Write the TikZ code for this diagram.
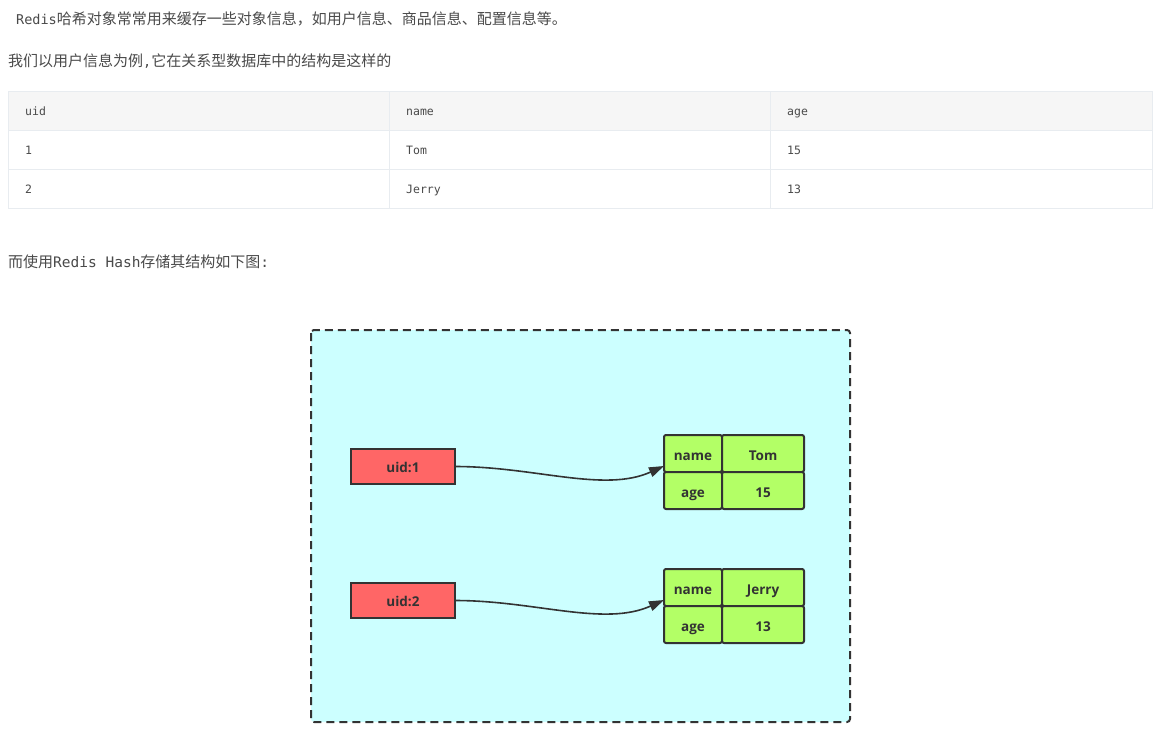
\documentclass[tikz,border=0pt]{standalone}
\usepackage{fontspec}
\usetikzlibrary{arrows.meta}
\newfontfamily\cjk{Noto Sans CJK SC}
\newfontfamily\mono{DejaVu Sans Mono}
\newfontfamily\lbl{Open Sans}
\definecolor{textgray}{HTML}{4A4A4A}
\definecolor{tblline}{HTML}{E8ECF0}
\definecolor{tblhead}{HTML}{F6F6F6}
\definecolor{strokec}{HTML}{333333}
\definecolor{boxbg}{HTML}{CCFFFF}
\definecolor{keyred}{HTML}{FF6666}
\definecolor{fieldgreen}{HTML}{B3FF66}
\tikzset{
  para/.style={anchor=west, inner sep=0pt, text=textgray},
  cell/.style={anchor=west, inner sep=0pt, text height=9pt, text depth=1pt, text=textgray, font=\mono\fontsize{11.5}{14}\selectfont},
  keybox/.style={draw=strokec, line width=2pt, fill=keyred, minimum width=104pt, minimum height=35pt,
    outer sep=0pt, text height=12.5pt, text depth=0pt, text=strokec, font=\lbl\bfseries\fontsize{13.5}{15}\selectfont},
  field/.style={draw=strokec, line width=2pt, fill=fieldgreen, rounded corners=2pt, minimum height=37pt,
    outer sep=0pt, text height=13pt, text depth=0pt, text=strokec, font=\lbl\bfseries\fontsize{13.5}{15}\selectfont},
  link/.style={draw=strokec, line width=1.6pt, -{Triangle[length=15pt,width=10pt]}}
}
\begin{document}
\begin{tikzpicture}[x=1pt, y=-1pt]
    \useasboundingbox[fill=white] (0,0) rectangle (1159,734);

    % Text lines
    \node[para] (intro) at (16,19) {\mono\fontsize{13.5}{16}\selectfont Redis\cjk\fontsize{15}{16}\selectfont 哈希对象常常用来缓存一些对象信息，如用户信息、商品信息、配置信息等。};
    \node[para] (example) at (8,61) {\cjk\fontsize{15}{16}\selectfont 我们以用户信息为例{\mono\fontsize{13.5}{16}\selectfont ,}它在关系型数据库中的结构是这样的};

    % Table
    \fill[tblhead] (8,91) rectangle (1152,130);
    \draw[tblline, line width=1pt] (8,91) rectangle (1152,208);
    \draw[tblline, line width=1pt] (8,130) -- (1152,130); \draw[tblline, line width=1pt] (8,169) -- (1152,169);
    \draw[tblline, line width=1pt] (389,91) -- (389,208); \draw[tblline, line width=1pt] (770,91) -- (770,208);
    \node[cell] (h uid) at (25,111) {uid}; \node[cell] (h name) at (406,111) {name}; \node[cell] (h age) at (787,111) {age};
    \node[cell] (r1 uid) at (25,150) {1}; \node[cell] (r1 name) at (406,150) {Tom}; \node[cell] (r1 age) at (787,150) {15};
    \node[cell] (r2 uid) at (25,189) {2}; \node[cell] (r2 name) at (406,189) {Jerry}; \node[cell] (r2 age) at (787,189) {13};

    \node[para] (lead) at (8,262) {\cjk\fontsize{15}{16}\selectfont 而使用{\mono\fontsize{14.5}{16}\selectfont Redis Hash}存储其结构如下图{\mono\fontsize{14.5}{16}\selectfont :}};

    % Redis space
    \draw[strokec, line width=2pt, dash pattern=on 8pt off 5pt, fill=boxbg, rounded corners=3pt] (311,330) rectangle (850,722);

    % Hash 1
    \node[keybox] (uid1) at (403,466.5) {uid:1};
    \node[field, minimum width=58pt] (name1) at (693,453.5) {name};
    \node[field, minimum width=82pt] (tom1) at (763,453.5) {Tom};
    \node[field, minimum width=58pt] (age1) at (693,490.5) {age};
    \node[field, minimum width=82pt] (num1) at (763,490.5) {15};
    \draw[link] (uid1.east) .. controls +(80,0) and +(-60,27) .. ([yshift=6pt]name1.south west);

    % Hash 2
    \node[keybox] (uid2) at (403,600.5) {uid:2};
    \node[field, minimum width=58pt] (name2) at (693,587.5) {name};
    \node[field, minimum width=82pt] (jerry2) at (763,587.5) {Jerry};
    \node[field, minimum width=58pt] (age2) at (693,624.5) {age};
    \node[field, minimum width=82pt] (num2) at (763,624.5) {13};
    \draw[link] (uid2.east) .. controls +(80,0) and +(-60,27) .. ([yshift=6pt]name2.south west);
\end{tikzpicture}
\end{document}
